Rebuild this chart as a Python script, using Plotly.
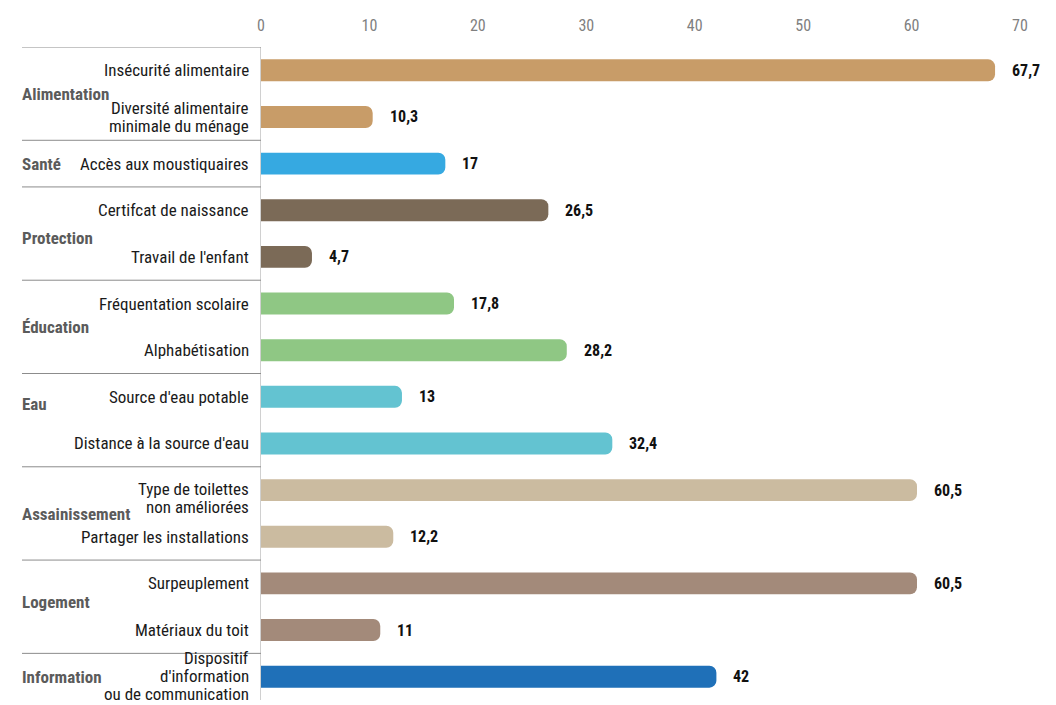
import plotly.graph_objects as go

# Indicator groups and their member indicators (top to bottom)
groups = ["Alimentation", "Santé", "Protection", "Éducation", "Eau",
          "Assainissement", "Logement", "Information"]
group_sizes = [2, 1, 2, 2, 2, 2, 2, 1]
group_colors = ["#C89C68", "#36A9E1", "#7B6A57", "#8FC784", "#63C3D1",
                "#CBBBA0", "#A38A7A", "#1F70B8"]

indicators = [
    "Insécurité alimentaire",
    "Diversité alimentaire\nminimale du ménage",
    "Accès aux moustiquaires",
    "Certifcat de naissance",
    "Travail de l'enfant",
    "Fréquentation scolaire",
    "Alphabétisation",
    "Source d'eau potable",
    "Distance à la source d'eau",
    "Type de toilettes\nnon améliorées",
    "Partager les installations",
    "Surpeuplement",
    "Matériaux du toit",
    "Dispositif\nd'information\nou de communication",
]
values = [67.7, 10.3, 17, 26.5, 4.7, 17.8, 28.2, 13, 32.4, 60.5, 12.2, 60.5, 11, 42]

tick_values = [0, 10, 20, 30, 40, 50, 60, 70]

FONT = "Liberation Sans Narrow, Roboto Condensed, Arial Narrow, Roboto, sans-serif"
LINE_H = 18

# expand group colours to one colour per row
row_colors = []
for n, c in zip(group_sizes, group_colors):
    row_colors += [c] * n

rows = list(range(len(indicators)))


def fmt(v):
    return f"{v:g}".replace(".", ",")


fig = go.Figure()
fig.add_trace(go.Bar(
    x=values, y=rows, orientation="h",
    marker=dict(color=row_colors, line=dict(width=0)),
    width=0.47, hoverinfo="skip",
))

annotations = []
# value labels to the right of each bar
for r, v in zip(rows, values):
    annotations.append(dict(
        x=v, y=r, xref="x", yref="y", text=f"<b>{fmt(v)}</b>",
        showarrow=False, xanchor="left", xshift=15,
        font=dict(family=FONT, size=16, color="#111111"),
    ))

# indicator labels, right-aligned against the axis, one annotation per line
label_shift = {9: -8, 13: 1}
for r, name in zip(rows, indicators):
    lines = name.split("\n")
    k = len(lines)
    for i, line in enumerate(lines):
        annotations.append(dict(
            x=0, y=r, xref="paper", yref="y", text=line,
            showarrow=False, xanchor="right", xshift=-10,
            yshift=((k - 1) / 2 - i) * LINE_H + label_shift.get(r, 0),
            font=dict(family=FONT, size=17, color="#1a1a1a"),
        ))

# group labels and separators
group_shift = {"Eau": -0.35, "Protection": 0.1, "Logement": -0.1, "Assainissement": 0.02}
shapes = []
start = 0
for g, n in zip(groups, group_sizes):
    mid = start + (n - 1) / 2 + group_shift.get(g, 0)
    annotations.append(dict(
        x=-239 / 759, y=mid, xref="paper", yref="y", text=f"<b>{g}</b>",
        showarrow=False, xanchor="left", xshift=-2,
        font=dict(family=FONT, size=17, color="#5b5b5b"),
    ))
    shapes.append(dict(
        type="line", xref="paper", yref="y",
        x0=-239 / 759, x1=0, y0=start - 0.5, y1=start - 0.5,
        line=dict(color="#8c8c8c", width=1),
    ))
    start += n

fig.update_layout(
    width=1056, height=705,
    margin=dict(l=261, r=36, t=47, b=5),
    paper_bgcolor="white", plot_bgcolor="white",
    showlegend=False,
    barcornerradius=7,
    annotations=annotations,
    shapes=shapes,
    xaxis=dict(
        side="top", range=[0, 70], tickvals=tick_values,
        showgrid=False, zeroline=False, showline=False, ticks="",
        tickfont=dict(family=FONT, size=16, color="#808080"),
        ticklabelstandoff=12,
    ),
    yaxis=dict(
        range=[13.5, -0.5], showticklabels=False, showgrid=False,
        zeroline=False, showline=True, linecolor="#d0d0d0", linewidth=1,
        ticks="",
    ),
)

fig.write_html("out.html")
